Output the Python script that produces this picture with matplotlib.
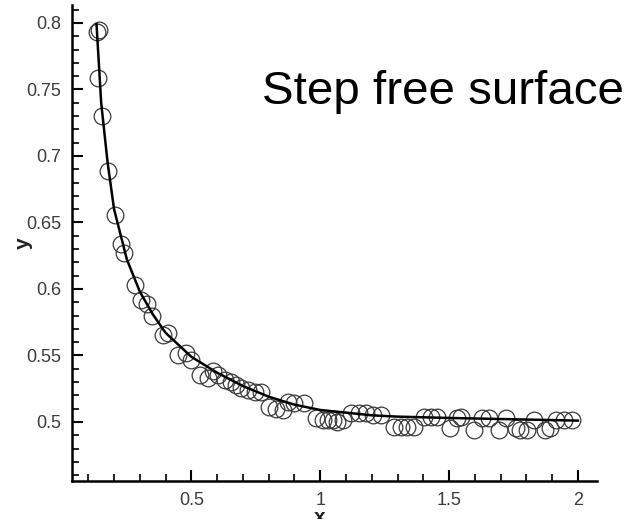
import matplotlib
matplotlib.use("Agg")
import matplotlib.pyplot as plt
from matplotlib.ticker import MultipleLocator, FixedLocator

# ---- data ----
marker_x = [0.132, 0.143, 0.136, 0.154, 0.177, 0.203, 0.225, 0.240, 0.281, 0.306,
            0.326, 0.349, 0.390, 0.409, 0.448, 0.481, 0.500, 0.535, 0.564, 0.584,
            0.603, 0.629, 0.655, 0.674, 0.693, 0.719, 0.745, 0.771, 0.803, 0.829,
            0.854, 0.874, 0.900, 0.938, 0.984, 1.009, 1.029, 1.048, 1.067, 1.087,
            1.119, 1.151, 1.177, 1.203, 1.235, 1.287, 1.313, 1.338, 1.364, 1.403,
            1.429, 1.454, 1.505, 1.532, 1.545, 1.596, 1.628, 1.654, 1.693, 1.719,
            1.758, 1.777, 1.803, 1.829, 1.874, 1.893, 1.913, 1.945, 1.977]
marker_y = [0.7935, 0.7947, 0.7584, 0.730, 0.689, 0.6556, 0.634, 0.627, 0.603, 0.592,
            0.589, 0.580, 0.5654, 0.5667, 0.5504, 0.5517, 0.5466, 0.535, 0.533, 0.538,
            0.5353, 0.5316, 0.530, 0.528, 0.5253, 0.524, 0.5228, 0.5228, 0.5115, 0.510,
            0.509, 0.5153, 0.514, 0.514, 0.503, 0.5015, 0.5015, 0.5015, 0.500, 0.5015,
            0.5065, 0.5065, 0.5065, 0.5053, 0.5053, 0.4965, 0.4965, 0.4965, 0.4965, 0.504,
            0.504, 0.504, 0.4953, 0.5028, 0.504, 0.494, 0.5028, 0.5028, 0.494, 0.5028,
            0.4953, 0.494, 0.494, 0.5015, 0.494, 0.4953, 0.5015, 0.5015, 0.5015]

line_x = [0.132, 0.15, 0.175, 0.2, 0.25, 0.3, 0.35, 0.4, 0.5, 0.6, 0.7, 0.8,
          0.9, 1.0, 1.1, 1.2, 1.3, 1.5, 1.75, 2.0]
line_y = [0.799, 0.740, 0.695, 0.660, 0.622, 0.598, 0.581, 0.567, 0.549, 0.537,
          0.527, 0.519, 0.513, 0.509, 0.507, 0.505, 0.504, 0.503, 0.502, 0.501]

x_ticks = [0.5, 1, 1.5, 2]
x_tick_labels = ["0.5", "1", "1.5", "2"]
y_ticks = [0.5, 0.55, 0.6, 0.65, 0.7, 0.75, 0.8]
y_tick_labels = ["0.5", "0.55", "0.6", "0.65", "0.7", "0.75", "0.8"]
title_text = "Step free surface"

plt.rcParams['font.family'] = ['Liberation Sans', 'DejaVu Sans']

fig = plt.figure(figsize=(6.35, 5.19), dpi=100)
ax = fig.add_axes([72/635, 1 - 481/519, 525/635, 476/519])

ax.plot(marker_x, marker_y, linestyle='none', marker='o', markersize=12,
        markerfacecolor='none', markeredgecolor='#3a3a3a', markeredgewidth=0.9,
        zorder=2)
ax.plot(line_x, line_y, color='black', linewidth=1.8, zorder=3)

ax.set_xlim(0.0368, 2.074)
ax.set_ylim(0.4556, 0.8135)

for s in ['top', 'right']:
    ax.spines[s].set_visible(False)
for s in ['left', 'bottom']:
    ax.spines[s].set_linewidth(1.8)

ax.xaxis.set_major_locator(FixedLocator(x_ticks))
ax.set_xticklabels(x_tick_labels)
ax.yaxis.set_major_locator(FixedLocator(y_ticks))
ax.set_yticklabels(y_tick_labels)
ax.xaxis.set_minor_locator(MultipleLocator(0.1))
ax.yaxis.set_minor_locator(MultipleLocator(0.01))

ax.tick_params(which='major', direction='in', length=8, width=1.5,
               labelsize=13, labelcolor='#3c3c3c', pad=8)
ax.tick_params(which='minor', direction='in', length=5, width=1.2)

xl = ax.set_xlabel("x", fontsize=15, fontweight='bold', color='#222222')
ax.xaxis.set_label_coords((320 - 72) / 525, (481 - 523) / 476)
xl.set_verticalalignment('baseline')
ax.set_ylabel("y", fontsize=15, fontweight='bold', color='#222222')
ax.yaxis.set_label_coords(-0.075, (481 - 243) / 476)

ax.text((262 - 72) / 525, (481 - 104) / 476, title_text, transform=ax.transAxes,
        ha='left', va='baseline', fontsize=34.2, color='black')

fig.savefig("out.png", dpi=100)
